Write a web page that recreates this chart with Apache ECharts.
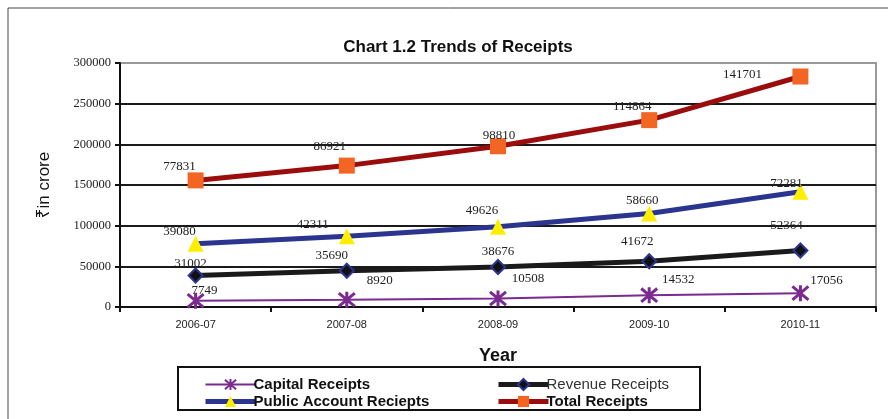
<!DOCTYPE html>
<html>
<head>
<meta charset="utf-8">
<script src="https://cdn.jsdelivr.net/npm/echarts@6/dist/echarts.min.js"></script>
<style>
  html, body { margin: 0; padding: 0; background: #fff; }
  #chart { width: 888px; height: 419px; }
</style>
</head>
<body>
<div id="chart"></div>
<script>
// data (values are stacked, labels show raw values)
const years = ['2006-07', '2007-08', '2008-09', '2009-10', '2010-11'];
const capitalReceipts = [7749, 8920, 10508, 14532, 17056];
const revenueReceipts = [31002, 35690, 38676, 41672, 52364];
const publicAccountReceipts = [39080, 42311, 49626, 58660, 72281];
const totalReceipts = [77831, 86921, 98810, 114864, 141701];
const yTicks = [0, 50000, 100000, 150000, 200000, 250000, 300000];

// label nudges, per point, so they sit like in the original
const labelNudge = {
  capital: [[9, -10], [33, -19], [30, -20], [29, -16], [26, -13]],
  revenue: [[-5, -12], [-15, -15], [0, -15], [-12, -20], [-14, -25]],
  publicAcc: [[-16, -12], [-34, -12], [-16, -16], [-7, -13], [-14, -8]],
  total: [[-16, -14], [-17, -19], [1, -11], [-17, -14], [-58, -2]]
};

const serif = '"Liberation Serif", "DejaVu Serif", serif';
const sans = '"Liberation Sans", Arial, "Noto Sans", "DejaVu Sans", sans-serif';
const asterisk = 'path://M0,0 L10,10 M10,0 L0,10 M5,-1 L5,11';

function withLabels(values, nudges) {
  return values.map((v, i) => ({
    value: v,
    label: { offset: nudges[i] }
  }));
}

function makeSeries(name, values, nudges, opts) {
  return Object.assign({
    name: name,
    type: 'line',
    stack: 'all',
    data: withLabels(values, nudges),
    label: {
      show: true,
      position: 'inside',
      align: 'center',
      verticalAlign: 'middle',
      fontFamily: serif,
      fontSize: 13,
      color: '#222'
    },
    emphasis: { disabled: true },
    animation: false
  }, opts);
}

const legendText = { fontFamily: sans, fontSize: 15, fontWeight: 'bold', color: '#111', padding: [0, 0, 0, -7] };

const chart = echarts.init(document.getElementById('chart'));

chart.setOption({
  backgroundColor: '#fff',
  animation: false,
  title: {
    text: 'Chart 1.2 Trends of Receipts',
    left: 453,
    top: 34,
    textAlign: 'center',
    textStyle: { fontFamily: sans, fontSize: 17, fontWeight: 'bold', color: '#111' }
  },
  graphic: [
    {
      type: 'rect',
      shape: { x: 8, y: 8, width: 900, height: 430 },
      style: { fill: 'none', stroke: '#444', lineWidth: 1 },
      z: -1
    },
    {
      type: 'rect',
      shape: { x: 178, y: 367, width: 522, height: 43 },
      style: { fill: 'none', stroke: '#111', lineWidth: 2 }
    }
  ],
  legend: [
    {
      orient: 'vertical',
      left: 198,
      top: 372,
      itemWidth: 50,
      itemHeight: 14,
      itemGap: 2,
      textStyle: legendText,
      data: [
        { name: 'Capital Receipts', lineStyle: { width: 2 } },
        { name: 'Public Account Reciepts', lineStyle: { width: 5 } }
      ]
    },
    {
      orient: 'vertical',
      left: 491,
      top: 372,
      itemWidth: 50,
      itemHeight: 14,
      itemGap: 2,
      textStyle: legendText,
      data: [
        { name: 'Revenue Receipts', lineStyle: { width: 5 }, textStyle: { fontWeight: 'normal', color: '#333' } },
        { name: 'Total Receipts', lineStyle: { width: 5 } }
      ]
    }
  ],
  grid: {
    left: 120,
    right: 12,
    top: 63,
    bottom: 112,
    show: true,
    borderColor: '#999',
    borderWidth: 2
  },
  xAxis: {
    type: 'category',
    data: years,
    boundaryGap: true,
    name: 'Year',
    nameLocation: 'middle',
    nameGap: 40,
    nameTextStyle: { fontFamily: sans, fontSize: 18, fontWeight: 'bold', color: '#111' },
    axisLine: { lineStyle: { color: '#111', width: 2 } },
    axisTick: { show: true, length: 5, lineStyle: { color: '#111', width: 2 } },
    axisLabel: { fontFamily: sans, fontSize: 11, color: '#222', margin: 12 }
  },
  yAxis: {
    type: 'value',
    min: yTicks[0],
    max: yTicks[yTicks.length - 1],
    interval: yTicks[1] - yTicks[0],
    name: '₹in crore',
    nameLocation: 'middle',
    nameGap: 67,
    nameRotate: 90,
    nameTextStyle: { fontFamily: sans, fontSize: 17, color: '#111' },
    axisLine: { show: true, lineStyle: { color: '#111', width: 2 } },
    axisTick: { show: true, length: 5, lineStyle: { color: '#111', width: 2 } },
    axisLabel: { fontFamily: serif, fontSize: 12.5, color: '#222', margin: 9, formatter: (v) => String(v) },
    splitLine: {
      show: true,
      lineStyle: {
        color: ['#1a1a1a', '#1a1a1a', '#1a1a1a', '#1a1a1a', '#1a1a1a', '#1a1a1a', '#999'],
        width: 2
      }
    }
  },
  series: [
    makeSeries('Capital Receipts', capitalReceipts, labelNudge.capital, {
      symbol: asterisk,
      symbolSize: 16,
      lineStyle: { color: '#7b2a90', width: 2 },
      itemStyle: { color: '#7b2a90', borderColor: '#7b2a90', borderWidth: 3 }
    }),
    makeSeries('Revenue Receipts', revenueReceipts, labelNudge.revenue, {
      symbol: 'diamond',
      symbolSize: 14,
      lineStyle: { color: '#1a1a1a', width: 5 },
      itemStyle: { color: '#111', borderColor: '#2b3590', borderWidth: 2 }
    }),
    makeSeries('Public Account Reciepts', publicAccountReceipts, labelNudge.publicAcc, {
      symbol: 'triangle',
      symbolSize: 16,
      lineStyle: { color: '#2b3590', width: 5 },
      itemStyle: { color: '#ffee00', borderWidth: 0 }
    }),
    makeSeries('Total Receipts', totalReceipts, labelNudge.total, {
      symbol: 'rect',
      symbolSize: 16,
      lineStyle: { color: '#9b0d0d', width: 5 },
      itemStyle: { color: '#f26522', borderWidth: 0 }
    })
  ]
});
</script>
</body>
</html>
